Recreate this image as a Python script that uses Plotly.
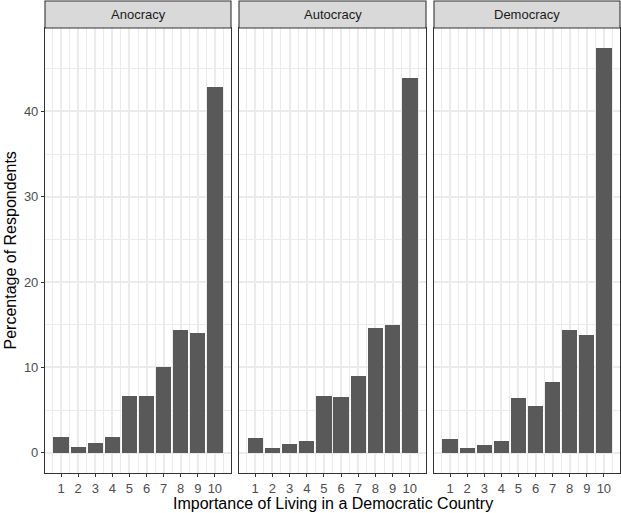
import plotly.graph_objects as go

categories = ["Anocracy", "Autocracy", "Democracy"]
scores = [1, 2, 3, 4, 5, 6, 7, 8, 9, 10]
anocracy = [1.9, 0.67, 1.14, 1.9, 6.6, 6.6, 10.0, 14.4, 14.0, 42.8]
autocracy = [1.7, 0.55, 1.0, 1.35, 6.6, 6.5, 9.0, 14.6, 14.95, 43.9]
democracy = [1.6, 0.55, 0.9, 1.35, 6.4, 5.45, 8.3, 14.35, 13.8, 47.4]
series = [anocracy, autocracy, democracy]

W, H = 621, 513
panels_px = [(45, 231), (239, 426), (434, 620)]
panel_top, panel_bot = 28, 473
strip_top = 1

FONT = "Liberation Sans, Arial, sans-serif"
fig = go.Figure()

ymax = max(max(s) for s in series)
yexp = ymax * 0.05
yrange = [0 - yexp, ymax + yexp]
xrange = [0.55 - 0.495, 10.45 + 0.495]

ydom = [1 - panel_bot / H, 1 - panel_top / H]

for i, (name, vals) in enumerate(zip(categories, series)):
    xa = "x" if i == 0 else f"x{i+1}"
    ya = "y" if i == 0 else f"y{i+1}"
    fig.add_trace(go.Bar(x=scores, y=vals, width=0.9, marker=dict(color="#595959", line=dict(width=0)),
                         xaxis=xa, yaxis=ya, showlegend=False, hoverinfo="x+y"))
    x0, x1 = panels_px[i]
    xkey = "xaxis" if i == 0 else f"xaxis{i+1}"
    ykey = "yaxis" if i == 0 else f"yaxis{i+1}"
    fig.layout[xkey] = dict(
        domain=[x0 / W, x1 / W], range=xrange, anchor=ya,
        tickmode="array", tickvals=scores, ticktext=[str(s) for s in scores],
        showgrid=True, gridcolor="#EBEBEB", gridwidth=1.5,
        minor=dict(tickmode="array", tickvals=[k + 0.5 for k in range(0, 11)], showgrid=True,
                   gridcolor="#EBEBEB", gridwidth=0.8, ticks=""),
        showline=True, linecolor="#333333", linewidth=1.1, mirror=True,
        ticks="outside", ticklen=3, tickcolor="#333333", tickwidth=1,
        tickfont=dict(family=FONT, size=13, color="#4D4D4D"),
        zeroline=False, fixedrange=True,
    )
    fig.layout[ykey] = dict(
        domain=ydom, range=yrange, anchor=xa,
        tickmode="array", tickvals=[0, 10, 20, 30, 40],
        showgrid=True, gridcolor="#EBEBEB", gridwidth=1.5,
        minor=dict(tickmode="array", tickvals=[5, 15, 25, 35, 45], showgrid=True,
                   gridcolor="#EBEBEB", gridwidth=0.8, ticks=""),
        showline=True, linecolor="#333333", linewidth=1.1, mirror=True,
        ticks="outside" if i == 0 else "", ticklen=3, tickcolor="#333333",
        showticklabels=(i == 0),
        tickfont=dict(family=FONT, size=13, color="#4D4D4D"),
        zeroline=False, fixedrange=True,
    )
    # strip
    fig.add_shape(type="rect", xref="paper", yref="paper",
                  x0=x0 / W, x1=x1 / W, y0=1 - panel_top / H, y1=1 - strip_top / H,
                  fillcolor="#D9D9D9", line=dict(color="#333333", width=1.1), layer="above")
    fig.add_annotation(text=name, xref="paper", yref="paper",
                       x=(x0 + x1) / 2 / W, y=1 - (panel_top + strip_top) / 2 / H,
                       showarrow=False, xanchor="center", yanchor="middle",
                       font=dict(family=FONT, size=13, color="#1A1A1A"))

fig.add_annotation(text="Importance of Living in a Democratic Country", xref="paper", yref="paper",
                   x=(45 + 620) / 2 / W, y=1 - 503 / H, showarrow=False,
                   xanchor="center", yanchor="middle",
                   font=dict(family=FONT, size=16, color="#000000"))
fig.add_annotation(text="Percentage of Respondents", xref="paper", yref="paper",
                   x=10 / W, y=1 - (panel_top + panel_bot) / 2 / H, showarrow=False, textangle=-90,
                   xanchor="center", yanchor="middle",
                   font=dict(family=FONT, size=16, color="#000000"))

fig.update_layout(width=W, height=H, margin=dict(l=0, r=0, t=0, b=0),
                  paper_bgcolor="white", plot_bgcolor="white", bargap=0)
fig.write_html("out.html")
